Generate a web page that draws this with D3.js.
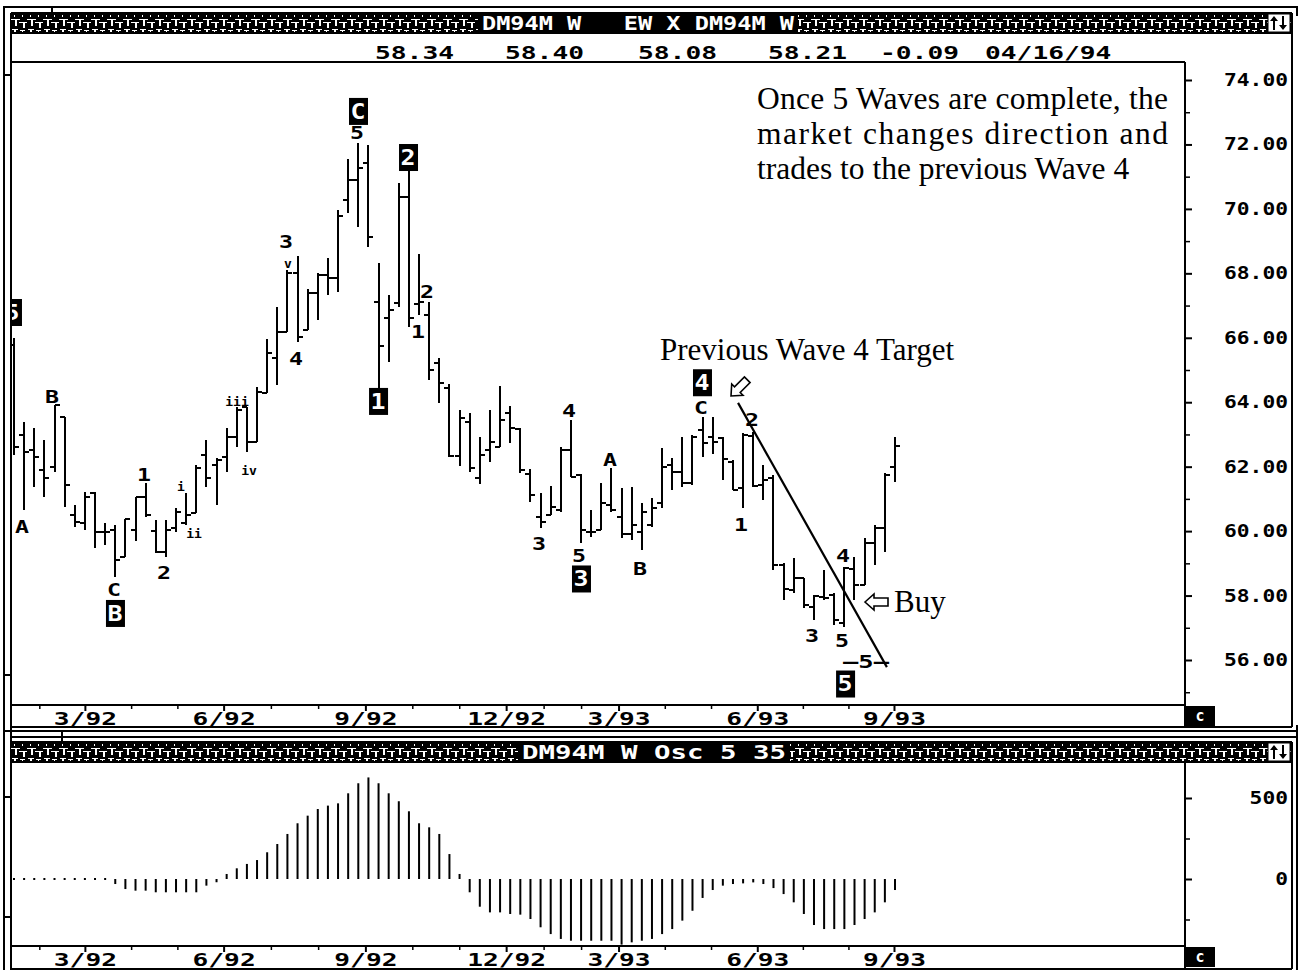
<!DOCTYPE html>
<html>
<head>
<meta charset="utf-8">
<script src="https://cdn.jsdelivr.net/npm/d3@7"></script>
<style>
  body { margin: 0; background: #fff; }
  svg { display: block; }
  .mono { font-family: "DejaVu Sans Mono", "Liberation Mono", monospace; font-weight: bold; }
  .serif { font-family: "Liberation Serif", "Times New Roman", serif; }
</style>
</head>
<body>
<svg id="chart" width="1298" height="973"></svg>
<script>
// ---- Weekly DM94M bars (open / high / low / close) ----
const opens = [65.78,62.98,62.52,61.90,61.99,63.54,60.50,60.25,61.18,59.97,60.03,59.20,60.03,61.06,60.00,59.35,60.10,60.25,60.56,62.36,62.05,62.30,62.92,63.85,62.76,64.29,65.37,66.18,68.01,66.24,67.39,67.95,67.85,70.28,70.90,71.42,67.11,66.61,67.08,70.37,67.05,66.71,65.22,64.44,62.33,63.39,61.65,62.52,62.61,63.67,63.17,61.77,60.44,60.50,60.65,62.52,61.74,59.97,60.03,60.81,60.44,59.91,59.97,60.19,60.87,62.05,61.83,61.49,63.14,62.92,62.89,62.14,61.34,62.95,61.43,61.65,58.95,58.17,58.54,57.64,57.95,58.02,57.15,58.82,58.33,59.63,60.10,61.99];
const highs = [65.99,63.39,63.20,62.83,63.91,63.54,60.81,61.21,61.21,60.25,60.19,60.37,61.06,61.49,60.34,60.34,60.72,61.18,62.05,62.83,62.27,63.20,63.85,63.85,64.47,65.96,66.95,68.10,68.54,67.51,68.01,68.48,69.97,71.55,72.05,71.98,68.32,67.33,70.80,71.21,68.60,67.11,65.37,64.57,63.76,63.67,62.92,63.76,64.50,63.88,63.20,61.93,61.18,61.40,62.61,63.45,61.77,60.65,61.49,61.96,61.34,61.37,60.87,61.03,62.58,62.27,62.92,62.98,63.54,63.54,62.92,62.21,63.04,63.08,62.05,61.74,59.01,59.16,58.54,58.02,58.79,58.08,58.89,59.20,59.79,60.19,61.80,62.92];
const lows = [62.36,60.65,61.37,61.06,61.83,60.75,60.13,60.03,59.47,59.57,58.57,59.20,59.69,60.44,59.32,59.20,59.97,60.19,60.56,61.37,60.81,61.83,62.61,62.45,62.76,64.29,64.53,66.18,65.87,66.24,66.55,67.33,67.42,69.87,69.44,68.82,64.44,65.25,66.95,66.33,66.71,64.69,63.97,62.30,62.02,61.83,61.46,62.14,62.61,62.73,61.80,60.90,60.10,60.50,60.59,61.68,59.63,59.82,60.03,60.59,59.79,59.72,59.41,60.13,60.72,61.28,61.37,61.43,62.30,62.39,61.59,61.28,60.72,61.37,60.96,58.79,57.86,58.08,57.61,57.24,57.86,57.09,57.02,57.86,58.33,58.95,59.35,61.52];
const closes = [62.61,62.45,62.30,61.65,63.91,61.43,60.28,61.06,59.97,59.97,59.10,60.37,61.06,60.50,59.35,60.03,60.59,60.50,61.96,61.65,62.21,62.92,63.76,62.76,64.32,65.53,66.18,68.01,66.02,67.39,67.95,67.85,69.78,70.90,71.27,69.13,65.74,66.86,70.37,66.61,67.11,65.00,64.60,62.33,63.51,61.96,62.36,62.76,63.45,63.20,61.90,61.12,60.28,60.75,62.52,61.68,60.03,59.97,60.87,60.65,59.91,60.19,60.59,60.72,61.99,61.83,61.49,62.92,62.73,62.76,62.24,61.28,62.98,61.40,61.59,58.95,58.20,58.54,57.71,57.98,57.92,57.24,58.85,58.33,59.63,60.10,61.74,62.64];

// ---- Oscillator 5/35 ----
const osc = [0,0,0,0,0,0,0,0,0,0,-31,-62,-72,-72,-82,-82,-82,-82,-82,-41,-20,31,66,93,117,165,216,278,344,391,432,453,467,529,591,627,591,529,480,418,344,319,278,154,31,-82,-171,-206,-206,-216,-220,-247,-298,-340,-370,-381,-381,-381,-381,-381,-405,-391,-381,-370,-340,-309,-257,-196,-117,-68,-41,-31,-27,-21,-31,-56,-93,-144,-216,-284,-309,-309,-309,-284,-247,-206,-144,-68];

// ---- Axis labels ----
const monthLabels = ["3/92","6/92","9/92","12/92","3/93","6/93","9/93"];
const monthWeek   = [7.0, 20.7, 34.7, 48.6, 59.7, 73.4, 86.9];
const priceLabels = [56,58,60,62,64,66,68,70,72,74];
const priceMinor  = [55,57,59,61,63,65,67,69,71,73];
const oscLabels   = [0,500];
const oscMinor    = [-250,250];
const quoteFields = ["58.34","58.40","58.08","58.21","-0.09","04/16/94"];

// ---- Elliott wave annotations: [text, week, price, kind] ----
const waveLabels = [
  ["A",0.79,60.13,"n"],["B",3.75,64.19,"n"],["C",9.88,58.20,"n"],["1",12.84,61.77,"n"],
  ["2",14.81,58.70,"n"],["i",16.49,61.40,"s"],["ii",17.78,59.94,"s"],["iii",22.02,64.04,"s"],
  ["iv",23.21,61.90,"s"],["3",26.86,69.00,"n"],["v",27.06,68.32,"s"],["4",27.85,65.37,"n"],
  ["5",33.87,72.36,"n"],["1",39.90,66.18,"n"],["2",40.79,67.45,"n"],["3",51.85,59.60,"n"],
  ["4",54.81,63.73,"n"],["5",55.80,59.24,"n"],["A",58.86,62.21,"n"],["B",61.82,58.85,"n"],
  ["C",67.85,63.84,"n"],["1",71.80,60.19,"n"],["2",72.88,63.45,"n"],["4",81.87,59.23,"n"],
  ["3",78.81,56.77,"n"],["5",81.77,56.62,"n"],["\u20125\u2012",84.14,55.95,"w"]
];
const waveBoxes = [
  ["C",33.97,73.04],["2",38.91,71.61],["1",35.95,64.04],["B",9.97,57.46],
  ["3",55.99,58.53],["4",67.94,64.62],["5",82.07,55.27],["5",-0.2,66.80]
];
const trendLine = [{w:71.5,p:63.98},{w:86.2,p:55.78}];

// ---- Layout ----
const L = {left:11, plotRight:1185, right:1292,
  top:{band:13, plotTop:62, plotBot:705, axisBot:727},
  bot:{band:742, plotTop:762, plotBot:946, axisBot:968}};

const svg = d3.select("#chart");
const defs = svg.append("defs");

// textured title-bar pattern
function bandPattern(id, y0){
  const p = defs.append("pattern").attr("id",id).attr("patternUnits","userSpaceOnUse")
    .attr("width",16).attr("height",20).attr("x",11).attr("y",y0);
  p.append("rect").attr("width",16).attr("height",20).attr("fill","#000");
  p.append("path").attr("fill","#fff").attr("d",
    "M3 2h1v2h-1z M11 2h1v2h-1z M0 6h9v1h-9z M4 7h2v6h-2z M8 9h8v1h-8z M12 10h2v5h-2z M1 16h6v1h-6z M3 17h2v2h-2z M9 17h5v1h-5z M11 18h1v1h-1z");
}
bandPattern("bandTex", L.top.band);
bandPattern("bandTex2", L.bot.band);

defs.append("clipPath").attr("id","pclip").append("rect")
  .attr("x",L.left+1).attr("y",L.top.plotTop+1).attr("width",L.plotRight-L.left-2).attr("height",L.top.plotBot-L.top.plotTop-2);
defs.append("clipPath").attr("id","oclip").append("rect")
  .attr("x",L.left+1).attr("y",L.bot.plotTop).attr("width",L.plotRight-L.left-2).attr("height",L.bot.plotBot-L.bot.plotTop);

// scales
const x = d3.scaleLinear().domain([0, opens.length-1]).range([14, 895]);
const yP = d3.scaleLinear().domain([56, 74]).range([660, 80]);
const yO = d3.scaleLinear().domain([0, 500]).range([879, 798]);

const ink = "#000";
function hline(x1,x2,y,w){ svg.append("line").attr("x1",x1).attr("x2",x2).attr("y1",y).attr("y2",y).attr("stroke",ink).attr("stroke-width",w||2).attr("shape-rendering","crispEdges"); }
function vline(x0,y1,y2,w){ svg.append("line").attr("x1",x0).attr("x2",x0).attr("y1",y1).attr("y2",y2).attr("stroke",ink).attr("stroke-width",w||2).attr("shape-rendering","crispEdges"); }

// ---- frame ----
hline(3,1298,7);
vline(4,7,970); vline(11,13,970);
vline(52,7,13);
hline(11,1292,L.top.axisBot); hline(3,1298,731); hline(11,1298,737);
vline(62,731,742);
hline(11,1292,L.bot.axisBot+1);
vline(1297,7,16); vline(1297,725,970);
[75,675].forEach(y=>hline(4,11,y,2));
[797,917].forEach(y=>hline(4,11,y,2));

function titleBar(y, tex, title, tx, tw){
  svg.append("rect").attr("x",11).attr("y",y).attr("width",L.right-11).attr("height",20).attr("fill",`url(#${tex})`);
  svg.append("rect").attr("x",tx-4).attr("y",y).attr("width",tw+8).attr("height",20).attr("fill","#000");
  svg.append("text").attr("class","mono").attr("x",tx).attr("y",y+17).attr("fill","#fff")
    .attr("font-size",20).attr("font-weight","normal").attr("textLength",tw).attr("lengthAdjust","spacingAndGlyphs")
    .attr("xml:space","preserve").text(title);
  const ix = L.right-24;
  svg.append("rect").attr("x",ix).attr("y",y+1).attr("width",22).attr("height",18).attr("fill","#fff").attr("stroke",ink).attr("stroke-width",1);
  svg.append("path").attr("fill",ink).attr("d",
    `M${ix+6} ${y+3} l-4 5 h3 v9 h2 v-9 h3 z M${ix+15} ${y+17} l-4 -5 h3 v-9 h2 v9 h3 z`);
  hline(11,L.right,y,2); hline(11,L.right,y+20,2);
}
titleBar(L.top.band,"bandTex","DM94M W   EW X DM94M W",482,312);
titleBar(L.bot.band,"bandTex2","DM94M W Osc 5 35",522,264);

// quote row
const quoteX = [375,505,638,768,880,985];
svg.selectAll("text.quote").data(quoteFields).join("text").attr("class","mono quote")
  .attr("x",(d,i)=>quoteX[i]).attr("y",59).attr("font-size",18)
  .attr("textLength",d=>d.length*15.8).attr("lengthAdjust","spacingAndGlyphs").text(d=>d);
hline(11,L.plotRight,L.top.plotTop);

// right axis columns
vline(L.plotRight,L.top.plotTop,L.top.axisBot);
vline(L.right,L.top.band,L.top.axisBot);
vline(L.plotRight,L.bot.plotTop,L.bot.axisBot+1);
vline(L.right,L.bot.band,L.bot.axisBot+1);

// price axis
const pAxis = svg.append("g").attr("transform",`translate(${L.plotRight},0)`)
  .call(d3.axisRight(yP).tickValues(priceLabels).tickSize(7).tickPadding(0).tickFormat(d=>d.toFixed(2)));
pAxis.select(".domain").remove();
pAxis.selectAll(".tick line").attr("stroke-width",2);
pAxis.selectAll(".tick text").attr("class","mono").attr("x",103).attr("text-anchor","end")
  .attr("font-size",17).attr("textLength",64).attr("lengthAdjust","spacingAndGlyphs").attr("fill",ink);
const pMinor = svg.append("g").attr("transform",`translate(${L.plotRight},0)`)
  .call(d3.axisRight(yP).tickValues(priceMinor).tickSize(5).tickFormat(""));
pMinor.select(".domain").remove();
pMinor.selectAll(".tick line").attr("stroke-width",1.5);

// oscillator axis
const oAxis = svg.append("g").attr("transform",`translate(${L.plotRight},0)`)
  .call(d3.axisRight(yO).tickValues(oscLabels).tickSize(7).tickFormat(d=>String(d)));
oAxis.select(".domain").remove();
oAxis.selectAll(".tick line").attr("stroke-width",2);
oAxis.selectAll(".tick text").attr("class","mono").attr("x",103).attr("text-anchor","end")
  .attr("font-size",17).attr("textLength",d=>String(d).length*12.8).attr("lengthAdjust","spacingAndGlyphs").attr("fill",ink);
const oMinor = svg.append("g").attr("transform",`translate(${L.plotRight},0)`)
  .call(d3.axisRight(yO).tickValues(oscMinor).tickSize(5).tickFormat(""));
oMinor.select(".domain").remove();
oMinor.selectAll(".tick line").attr("stroke-width",1.5);

// time axes (one per panel)
function timeAxis(yTop){
  hline(11,L.plotRight,yTop);
  const minors = [];
  for (let k=0;k<monthWeek.length-1;k++){
    const a=monthWeek[k], b=monthWeek[k+1];
    minors.push(a+(b-a)/3, a+2*(b-a)/3);
  }
  minors.unshift(monthWeek[0]-4.5, monthWeek[0]-9);
  const g = svg.append("g").attr("transform",`translate(0,${yTop})`)
    .call(d3.axisBottom(x).tickValues(minors.filter(w=>x(w)>L.left)).tickSize(4).tickFormat(""));
  g.select(".domain").remove(); g.selectAll(".tick line").attr("stroke-width",1.5);
  const gm = svg.append("g").attr("transform",`translate(0,${yTop})`)
    .call(d3.axisBottom(x).tickValues(monthWeek).tickSize(6).tickPadding(1).tickFormat((d,i)=>monthLabels[i]));
  gm.select(".domain").remove(); gm.selectAll(".tick line").attr("stroke-width",2);
  gm.selectAll(".tick text").attr("class","mono").attr("font-size",17).attr("fill",ink)
    .attr("y",4).attr("dy","0.92em")
    .attr("textLength",(d,i)=>monthLabels[i].length*15.8).attr("lengthAdjust","spacingAndGlyphs");
  svg.append("rect").attr("x",L.plotRight).attr("y",yTop+1).attr("width",30).attr("height",20).attr("fill","#000");
  svg.append("text").attr("class","mono").attr("x",L.plotRight+15).attr("y",yTop+16).attr("text-anchor","middle")
    .attr("font-size",15).attr("fill","#fff").text("c");
}
timeAxis(L.top.plotBot);
timeAxis(L.bot.plotBot);

// ---- price bars ----
const idx = d3.range(opens.length);
const pg = svg.append("g").attr("clip-path","url(#pclip)").attr("stroke",ink).attr("stroke-width",2).attr("shape-rendering","crispEdges");
pg.selectAll("line.hl").data(idx).join("line").attr("class","hl")
  .attr("x1",i=>x(i)).attr("x2",i=>x(i)).attr("y1",i=>yP(highs[i])).attr("y2",i=>yP(lows[i]));
pg.selectAll("line.op").data(idx).join("line").attr("class","op")
  .attr("x1",i=>x(i)-5).attr("x2",i=>x(i)).attr("y1",i=>yP(opens[i])).attr("y2",i=>yP(opens[i]));
pg.selectAll("line.cl").data(idx).join("line").attr("class","cl")
  .attr("x1",i=>x(i)).attr("x2",i=>x(i)+5).attr("y1",i=>yP(closes[i])).attr("y2",i=>yP(closes[i]));

// ---- oscillator histogram ----
const og = svg.append("g").attr("clip-path","url(#oclip)");
og.selectAll("rect").data(idx).join("rect")
  .attr("x",i=>x(i)-1).attr("width",2)
  .attr("y",i=>Math.min(yO(osc[i]),yO(0)) - (osc[i]===0?1:0))
  .attr("height",i=>Math.max(2,Math.abs(yO(osc[i])-yO(0))))
  .attr("fill",ink);

// ---- annotations on price panel ----
const ag = svg.append("g").attr("clip-path","url(#pclip)");
ag.append("line").attr("x1",x(trendLine[0].w)).attr("y1",yP(trendLine[0].p))
  .attr("x2",x(trendLine[1].w)).attr("y2",yP(trendLine[1].p)).attr("stroke",ink).attr("stroke-width",2.2);

const wl = ag.selectAll("text.wave").data(waveLabels).join("text").attr("class","mono wave")
  .attr("x",d=>x(d[1])).attr("y",d=>yP(d[2])).attr("dy","0.36em").attr("text-anchor","middle")
  .attr("font-size",d=>d[3]==="s"?13:18)
  .attr("font-weight",d=>d[3]==="s"?"normal":"bold")
  .attr("fill",ink).text(d=>d[0]);
wl.filter(d=>d[3]==="n").attr("textLength",d=>d[0].length*14).attr("lengthAdjust","spacingAndGlyphs");
wl.filter(d=>d[3]==="w").attr("font-size",17).attr("textLength",46).attr("lengthAdjust","spacingAndGlyphs");

const bx = ag.selectAll("g.box").data(waveBoxes).join("g").attr("class","box")
  .attr("transform",d=>`translate(${x(d[1])},${yP(d[2])})`);
bx.append("rect").attr("x",-9).attr("y",-13).attr("width",19).attr("height",27).attr("fill","#000");
bx.append("text").attr("class","mono").attr("text-anchor","middle").attr("dy","0.36em")
  .attr("font-size",22).attr("fill","#fff").attr("textLength",15).attr("lengthAdjust","spacingAndGlyphs").text(d=>d[0]);

// hollow arrows
const arrowShape = "M0 0 L9 -8 L9 -4 L23 -4 L23 4 L9 4 L9 8 Z";
svg.append("path").attr("d",arrowShape).attr("transform","translate(865,602)")
  .attr("fill","#fff").attr("stroke",ink).attr("stroke-width",1.6);
svg.append("path").attr("d",arrowShape).attr("transform","translate(731,396) rotate(-45)")
  .attr("fill","#fff").attr("stroke",ink).attr("stroke-width",1.6);

// text notes
svg.append("text").attr("class","serif").attr("x",894).attr("y",612).attr("font-size",31).text("Buy");
svg.append("text").attr("class","serif").attr("x",660).attr("y",360).attr("font-size",31).text("Previous Wave 4 Target");
const note = ["Once 5 Waves are complete, the","market changes direction and","trades to the previous Wave 4"];
svg.selectAll("text.note").data(note).join("text").attr("class","serif note")
  .attr("x",757).attr("y",(d,i)=>109+i*35).attr("font-size",31.5)
  .attr("textLength",(d,i)=>i<2?411:null).attr("lengthAdjust","spacing").text(d=>d);
</script>
</body>
</html>
